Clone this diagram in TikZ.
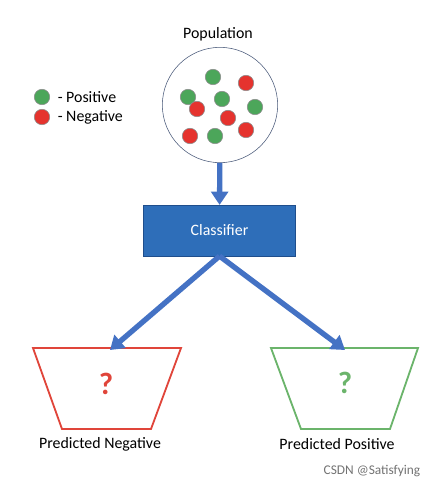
\documentclass[tikz,border=0pt]{standalone}
\usepackage{xcolor}
\usepackage{fontspec}
\setmainfont{Carlito}
\usepackage{tikz}
\usetikzlibrary{positioning,arrows.meta}

\definecolor{arrowblue}{HTML}{4472C4}
\definecolor{boxblue}{HTML}{2E6EB9}
\definecolor{boxedge}{HTML}{1F4E8C}
\definecolor{posgreen}{HTML}{4CA65A}
\definecolor{negred}{HTML}{E5332E}
\definecolor{trapred}{HTML}{E0453A}
\definecolor{trapgreen}{HTML}{6BB46B}
\definecolor{ringblue}{HTML}{4A5A7A}

\tikzset{
  posdot/.style={circle,draw=black!45,fill=posgreen,minimum size=11pt,inner sep=0pt},
  negdot/.style={circle,draw=black!45,fill=negred,minimum size=11pt,inner sep=0pt},
  flow/.style={arrowblue,line width=3.8pt,-{Triangle[width=12pt,length=9.5pt]}},
  txt/.style={font=\fontsize{11.3}{13}\selectfont}
}

\begin{document}
\begin{tikzpicture}[x=0.025cm,y=-0.025cm]
  \useasboundingbox (0,0) rectangle (439,489);

  \node[txt] (poptitle) at (218,34) {Population};
  \node[circle,draw=ringblue,thin,minimum size=82pt,inner sep=0pt] (pop) at (220,105) {};

  \node[posdot] (g1) at (188,97) {};
  \node[posdot] (g2) at (213,77) {};
  \node[posdot] (g3) at (222,99) {};
  \node[posdot] (g4) at (255,107) {};
  \node[posdot] (g5) at (215,136) {};
  \node[negdot] (r1) at (246,83) {};
  \node[negdot] (r2) at (197,109) {};
  \node[negdot] (r3) at (228,118) {};
  \node[negdot] (r4) at (246,130) {};
  \node[negdot] (r5) at (190,136) {};

  % legend
  \node[posdot] (legpos) at (42,97) {};
  \node[negdot] (legneg) at (42,117) {};
  \node[txt,right=2pt of legpos] (postxt) {- Positive};
  \node[txt,right=2pt of legneg] (negtxt) {- Negative};

  \node[draw=boxedge,fill=boxblue,text=white,txt,minimum width=108pt,minimum height=36pt] (clf) at (219.5,230.5) {Classifier};

  % trapezoids
  \coordinate (nl1) at (33,348); \coordinate (nr1) at (181,348);
  \coordinate (nr2) at (151,429); \coordinate (nl2) at (62,429);
  \draw[trapred,line width=1.3pt] (nl1) -- (nr1) -- (nr2) -- (nl2) -- cycle;
  \coordinate (pl1) at (271,348); \coordinate (pr1) at (418,348);
  \coordinate (pr2) at (390,429); \coordinate (pl2) at (301,429);
  \draw[trapgreen,line width=1.3pt] (pl1) -- (pr1) -- (pr2) -- (pl2) -- cycle;

  \node[text=trapred,font=\fontsize{22}{26}\selectfont\bfseries] (qneg) at (106,384) {?};
  \node[text=trapgreen,font=\fontsize{22}{26}\selectfont\bfseries] (qpos) at (345,383) {?};

  \coordinate (negtop) at (110,350);
  \coordinate (postop) at (345,350);
  \draw[flow] (pop) -- (clf);
  \draw[flow] (clf.south) -- (negtop);
  \draw[flow] (clf.south) -- (postop);

  \node[txt] (negname) at (100,444) {Predicted Negative};
  \node[txt] (posname) at (337,444) {Predicted Positive};
  \node[text=black!55,font=\fontsize{9.5}{11}\selectfont] (mark) at (372,471) {CSDN @Satisfying};
\end{tikzpicture}
\end{document}
